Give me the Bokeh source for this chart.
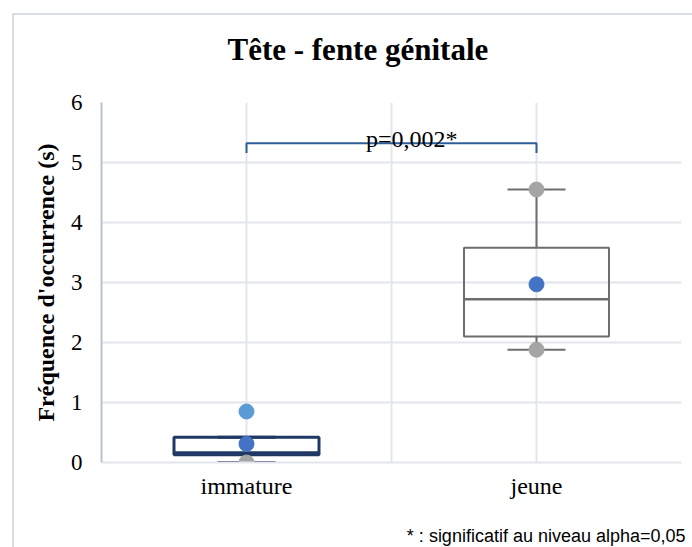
from bokeh.plotting import figure
from bokeh.models import Range1d, FixedTicker, Label, InlineStyleSheet
from bokeh.embed import file_html
from bokeh.resources import INLINE

# ---- data ----
categories = ["immature", "jeune"]
q1 = [0.13, 2.10]
median = [0.16, 2.72]
q3 = [0.42, 3.58]
whisker_low = [0.0, 1.88]
whisker_high = [0.42, 4.55]
mean = [0.31, 2.97]
minimum = [0.0, 1.88]
maximum = [0.85, 4.55]
max_is_outlier = [True, False]
y_ticks = [0, 1, 2, 3, 4, 5, 6]
pvalue_text = "p=0,002*"
bracket_level = 5.32
title_text = "Tête - fente génitale"
ylabel_text = "Fréquence d'occurrence (s)"
footnote_text = "* : significatif au niveau alpha=0,05"

# ---- styles ----
box_colors = ["#203864", "#6E6E6E"]
box_widths = [3, 2]
SERIF = "Liberation Serif"
GRID = "#E2E6EC"

xs = [i + 0.5 for i in range(len(categories))]

p = figure(width=692, height=547, output_backend="svg", toolbar_location=None,
           x_range=Range1d(0, 2), y_range=Range1d(0, 6),
           min_border_left=101, min_border_top=102, min_border_right=11,
           min_border_bottom=85)
p.outline_line_color = None
p.background_fill_color = "white"

# outer chart border (top and left edges visible)
p.stylesheets = [InlineStyleSheet(css="""
:host { position: relative; }
:host::after { content: ""; position: absolute; left: 12px; top: 13px; right: 0; bottom: 0;
  border-left: 2px solid #D9DDE4; border-top: 2px solid #D9DDE4; pointer-events: none; }
""")]

# grids
p.xgrid.ticker = FixedTicker(ticks=[0.5, 1.0, 1.5, 2.0])
p.xgrid.grid_line_color = GRID
p.xgrid.grid_line_width = 2
p.ygrid.ticker = FixedTicker(ticks=y_ticks)
p.ygrid.grid_line_color = GRID
p.ygrid.grid_line_width = 2

# y axis
p.yaxis.ticker = FixedTicker(ticks=y_ticks)
p.yaxis.axis_line_color = "#B8C3D2"
p.yaxis.axis_line_width = 2
p.yaxis.major_tick_line_color = None
p.yaxis.minor_tick_line_color = None
p.yaxis.major_label_text_font = SERIF
p.yaxis.major_label_text_font_size = "23px"
p.yaxis.major_label_text_color = "black"
p.yaxis.major_label_standoff = 13
p.yaxis.axis_label = ylabel_text
p.yaxis.axis_label_text_font = SERIF
p.yaxis.axis_label_text_font_size = "24px"
p.yaxis.axis_label_text_font_style = "bold"
p.yaxis.axis_label_text_color = "black"
p.yaxis.axis_label_standoff = 9

# x axis
p.xaxis.ticker = FixedTicker(ticks=xs)
p.xaxis.major_label_overrides = {x: c for x, c in zip(xs, categories)}
p.xaxis.axis_line_color = GRID
p.xaxis.axis_line_width = 2
p.xaxis.major_tick_line_color = None
p.xaxis.minor_tick_line_color = None
p.xaxis.major_label_text_font = SERIF
p.xaxis.major_label_text_font_size = "24px"
p.xaxis.major_label_text_color = "black"
p.xaxis.major_label_standoff = 4

for i, x in enumerate(xs):
    col = box_colors[i]
    lw = box_widths[i]
    # whiskers
    p.segment(x0=[x, x], y0=[q3[i], q1[i]], x1=[x, x], y1=[whisker_high[i], whisker_low[i]],
              line_color=col, line_width=lw)
    # caps
    p.segment(x0=[x - 0.1, x - 0.1], y0=[whisker_high[i], whisker_low[i]],
              x1=[x + 0.1, x + 0.1], y1=[whisker_high[i], whisker_low[i]],
              line_color=col, line_width=lw)
    # box
    p.quad(left=[x - 0.25], right=[x + 0.25], bottom=[q1[i]], top=[q3[i]],
           fill_alpha=0, line_color=col, line_width=lw)
    # median
    p.segment(x0=[x - 0.25], y0=[median[i]], x1=[x + 0.25], y1=[median[i]],
              line_color=col, line_width=lw + 0.5)

# min / max points
p.scatter(xs, minimum, size=15, color="#A5A5A5")
for i, x in enumerate(xs):
    p.scatter([x], [maximum[i]], size=15,
              color="#5B9BD5" if max_is_outlier[i] else "#A5A5A5")
# means
p.scatter(xs, mean, size=15, color="#4472C4")

# significance bracket
p.line(x=[xs[0], xs[0], xs[1], xs[1]],
       y=[bracket_level - 0.16, bracket_level, bracket_level, bracket_level - 0.16],
       line_color="#2F5D9A", line_width=2)
p.add_layout(Label(x=1.07, y=bracket_level + 0.08, text=pvalue_text, text_font=SERIF,
                   text_font_size="24px", text_align="center", text_baseline="alphabetic",
                   text_color="black"))

# title (in the top side panel, so it is not clipped to the plot area)
p.add_layout(Label(x=0.884, y=6.88, text=title_text, text_font=SERIF,
                   text_font_size="31px", text_font_style="bold", text_align="center",
                   text_baseline="alphabetic", text_color="black"), "above")
# footnote (in the bottom side panel)
p.add_layout(Label(x=2.014, y=-1.217, text=footnote_text, text_font="Liberation Sans",
                   text_font_size="18px", text_align="right", text_baseline="middle",
                   text_color="black"), "below")

open("out.html", "w").write(file_html(p, INLINE))
